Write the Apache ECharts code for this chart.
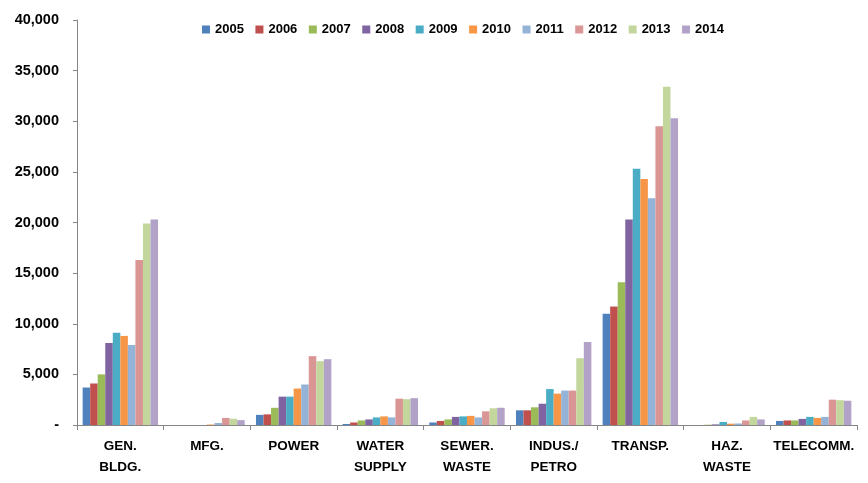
<!DOCTYPE html>
<html>
<head>
<meta charset="utf-8">
<script src="https://cdn.jsdelivr.net/npm/echarts@6/dist/echarts.min.js"></script>
<style>
html,body{margin:0;padding:0;background:#fff;}
#chart{width:868px;height:483px;}
</style>
</head>
<body>
<div id="chart"></div>
<script>
const categories = ['GEN.\nBLDG.', 'MFG.', 'POWER', 'WATER\nSUPPLY', 'SEWER.\nWASTE', 'INDUS./\nPETRO', 'TRANSP.', 'HAZ.\nWASTE', 'TELECOMM.'];
const years = ['2005','2006','2007','2008','2009','2010','2011','2012','2013','2014'];
const y2005 = [3700, 0, 1000, 100, 250, 1450, 11000, 0, 400];
const y2006 = [4100, 0, 1050, 250, 400, 1450, 11700, 0, 450];
const y2007 = [5000, 0, 1700, 450, 550, 1750, 14100, 30, 450];
const y2008 = [8100, 0, 2800, 550, 800, 2100, 20300, 60, 600];
const y2009 = [9100, 0, 2800, 750, 850, 3550, 25300, 300, 800];
const y2010 = [8800, 50, 3600, 850, 900, 3100, 24300, 130, 700];
const y2011 = [7900, 200, 4000, 750, 750, 3400, 22400, 150, 800];
const y2012 = [16300, 700, 6800, 2600, 1350, 3400, 29500, 450, 2500];
const y2013 = [19900, 620, 6300, 2550, 1650, 6600, 33400, 800, 2450];
const y2014 = [20300, 480, 6500, 2650, 1700, 8200, 30300, 550, 2400];
const yTicks = { min: 0, max: 40000, interval: 5000 };
const colors = ['#4F81BD','#C0504D','#9BBB59','#8064A2','#4BACC6','#F79646','#95B3D7','#D99694','#C3D69B','#B3A2C7'];

const seriesData = [y2005,y2006,y2007,y2008,y2009,y2010,y2011,y2012,y2013,y2014];
const FONT = '"Liberation Sans", Arial, sans-serif';

const chart = echarts.init(document.getElementById('chart'), null, {renderer:'canvas'});
chart.setOption({
  animation: false,
  backgroundColor: '#ffffff',
  color: colors,
  legend: {
    data: years,
    top: 18,
    left: 197,
    itemWidth: 8,
    itemHeight: 8,
    itemGap: 11.5,
    icon: 'rect',
    textStyle: { fontFamily: FONT, fontWeight: 'bold', fontSize: 13, color: '#000' }
  },
  grid: { left: 77, right: 11, top: 20, bottom: 58, containLabel: false },
  xAxis: {
    type: 'category',
    data: categories,
    axisLine: { lineStyle: { color: '#868686', width: 1 } },
    axisTick: { show: true, length: 5, lineStyle: { color: '#868686' } },
    axisLabel: {
      margin: 11,
      interval: 0,
      fontFamily: FONT, fontWeight: 'bold', fontSize: 13.5, color: '#000', lineHeight: 21
    },
    splitLine: { show: false }
  },
  yAxis: {
    type: 'value',
    min: yTicks.min, max: yTicks.max, interval: yTicks.interval,
    axisLine: { show: true, lineStyle: { color: '#868686', width: 1 } },
    axisTick: { show: true, length: 4, lineStyle: { color: '#868686' } },
    splitLine: { show: false },
    axisLabel: {
      margin: 18,
      fontFamily: FONT, fontWeight: 'bold', fontSize: 14.5, color: '#000',
      formatter: function (v) { return v === 0 ? '-' : v.toLocaleString('en-US'); }
    }
  },
  series: years.map((y, i) => ({
    name: y,
    type: 'bar',
    data: seriesData[i],
    barGap: '0%',
    barCategoryGap: '13%',
    itemStyle: { color: colors[i] }
  }))
});
</script>
</body>
</html>
